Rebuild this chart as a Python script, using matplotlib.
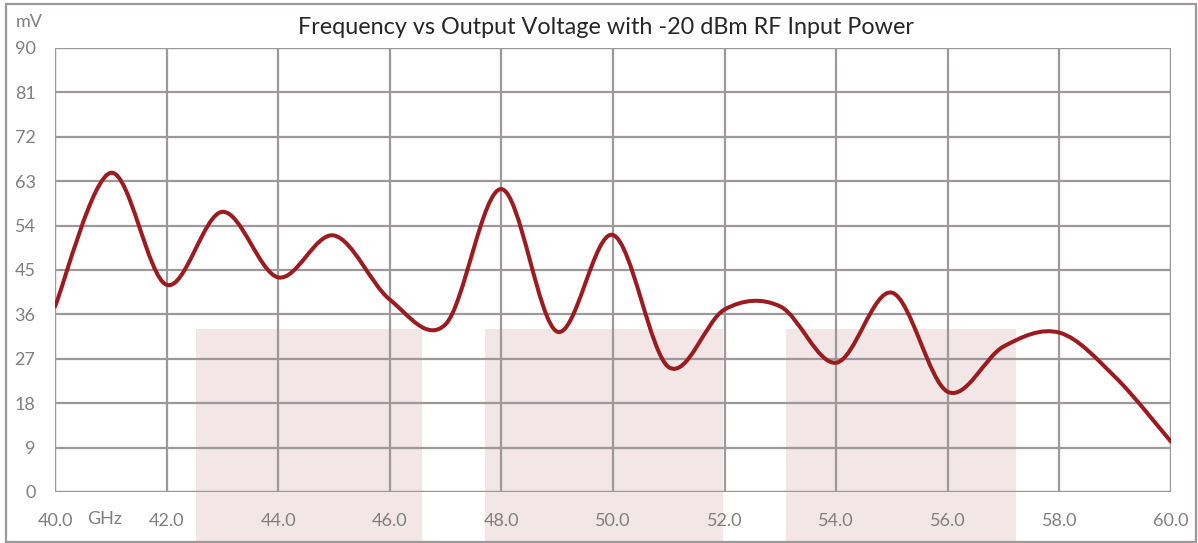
import matplotlib
matplotlib.use("Agg")
import matplotlib.pyplot as plt
from matplotlib.path import Path
from matplotlib.patches import PathPatch, Rectangle
import numpy as np

plt.rcParams['font.family'] = ['Lato', 'DejaVu Sans']

# Data (GHz, mV)
freq_ghz = [40, 41, 42, 43, 44, 45, 46, 47, 48, 49, 50, 51, 52, 53, 54, 55, 56, 57, 58, 59, 60]
voltage_mv = [37.6, 64.7, 42.0, 56.8, 43.5, 52.0, 39.0, 34.0, 61.4, 32.5, 52.1, 25.3, 37.0, 37.6, 26.2, 40.4, 20.3, 29.5, 32.3, 23.3, 10.2]

x_ticks = [40, 42, 44, 46, 48, 50, 52, 54, 56, 58, 60]
x_tick_labels = ["40.0", "42.0", "44.0", "46.0", "48.0", "50.0", "52.0", "54.0", "56.0", "58.0", "60.0"]
y_ticks = [0, 9, 18, 27, 36, 45, 54, 63, 72, 81, 90]

# Shaded bands (GHz start, GHz end, top mV)
band_starts = [42.53, 47.71, 53.1]
band_ends = [46.58, 51.97, 57.22]
band_top = 33.0

title = "Frequency vs Output Voltage with -20 dBm RF Input Power"

W, H = 1198, 543
fig = plt.figure(figsize=(W / 100, H / 100), dpi=100)
ax = fig.add_axes([55 / W, 1 - 492 / H, (1171 - 55) / W, (492 - 48) / H])

grid_c = "#9C989C"
label_c = "#7F7F7F"
line_c = "#9B1B1F"
band_c = "#F2E6E6"
fs = 13

ax.set_xlim(40, 60)
ax.set_ylim(0, 90)

# bands (extend below the axis to figure bottom)
for s, e in zip(band_starts, band_ends):
    r = Rectangle((s, -15), e - s, band_top + 15, facecolor=band_c, edgecolor='none',
                  zorder=0.5, clip_on=False)
    ax.add_patch(r)

# grid
ax.set_xticks(x_ticks)
ax.set_xticklabels(x_tick_labels)
ax.set_yticks(y_ticks)
ax.grid(True, color=grid_c, linewidth=1.6, zorder=1)
ax.set_axisbelow(False)
for sp in ax.spines.values():
    sp.set_visible(False)
ax.tick_params(length=0, colors=label_c, labelsize=fs)
ax.tick_params(axis='x', pad=15)
ax.tick_params(axis='y', pad=14)
ax.axhline(0, color=grid_c, lw=1.6, zorder=1)
ax.axvline(40, color=grid_c, lw=1.6, zorder=1)
ax.axhline(90, color=grid_c, lw=1.6, zorder=1)
ax.axvline(60, color=grid_c, lw=1.6, zorder=1)

# Smooth curve (Excel-like Bezier smoothing)
x = np.array(freq_ghz, dtype=float)
y = np.array(voltage_mv, dtype=float)
pts = np.column_stack([x, y])
n = len(pts)
verts = [pts[0]]
codes = [Path.MOVETO]
for i in range(n - 1):
    p0 = pts[i - 1] if i > 0 else pts[i]
    p1 = pts[i]
    p2 = pts[i + 1]
    p3 = pts[i + 2] if i + 2 < n else pts[i + 1]
    c1 = p1 + (p2 - p0) / 6.0
    c2 = p2 - (p3 - p1) / 6.0
    verts += [c1, c2, p2]
    codes += [Path.CURVE4] * 3
path = Path(verts, codes)
ax.add_patch(PathPatch(path, facecolor='none', edgecolor=line_c, lw=2.9,
                       capstyle='round', joinstyle='round', zorder=3))

# GHz unit label and mV label
ax.text(40.88, -5.5, "GHz", ha='center', va='center', color=label_c, fontsize=fs,
        clip_on=False)
fig.text(29 / W, 1 - 22 / H, "mV", ha='center', va='center', color=label_c, fontsize=fs)

fig.text(606 / W, 1 - 28 / H, title, ha='center', va='center', color="#262626", fontsize=16.8)

# outer border
fig.add_artist(Rectangle((6 / W, 1 / H), (1196 - 6) / W, (539 - 1) / H, transform=fig.transFigure,
                         facecolor='none', edgecolor=grid_c, lw=1.6, zorder=10))

fig.savefig("out.png", dpi=100)
